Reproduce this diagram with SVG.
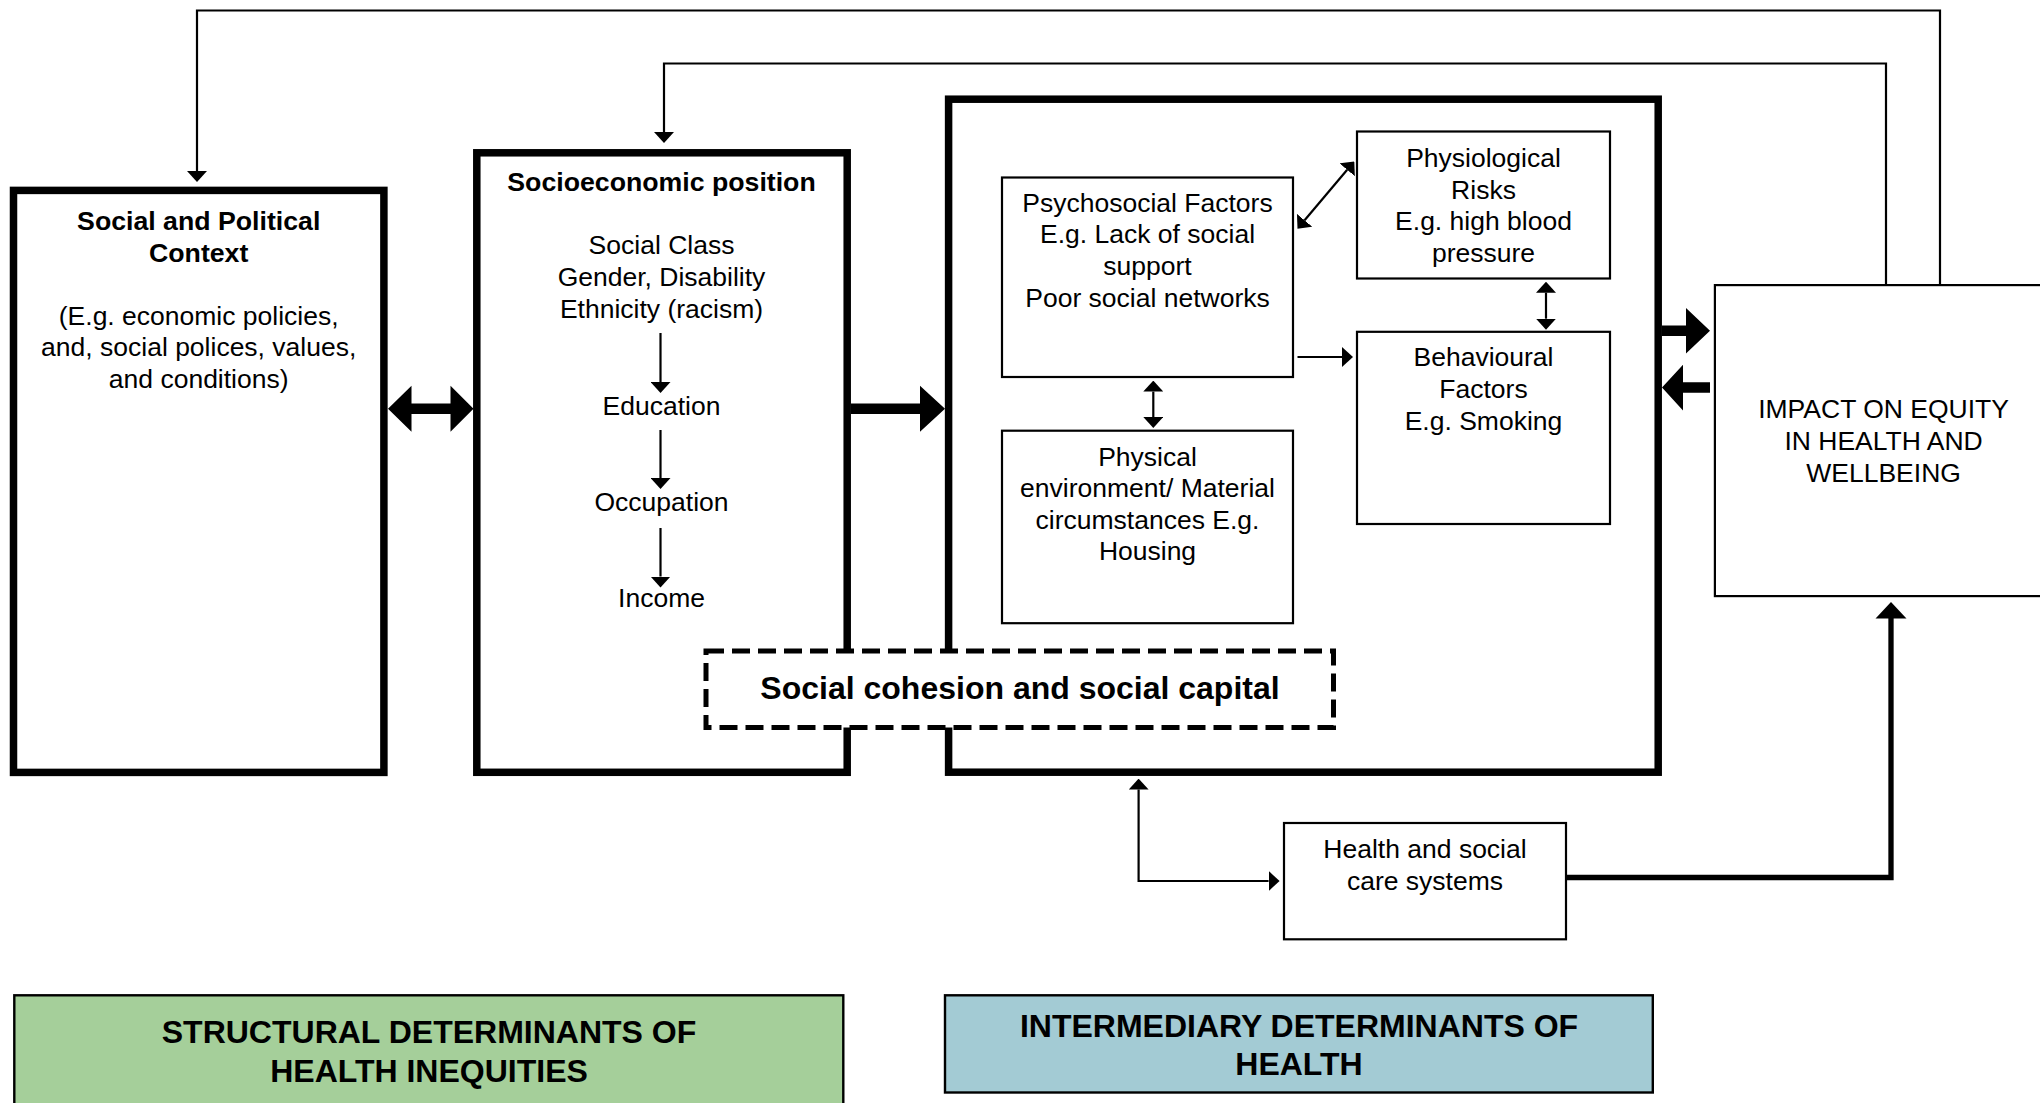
<svg xmlns="http://www.w3.org/2000/svg" width="2040" height="1103" viewBox="0 0 2040 1103">
<defs>
<style>
.thick{fill:#fff;stroke:#000;stroke-width:7.5}
.thin{fill:#fff;stroke:#000;stroke-width:2.2}
.dash{fill:#fff;stroke:#000;stroke-width:5;stroke-dasharray:18 8}
.green{fill:#a5cf9a;stroke:#000;stroke-width:2.4}
.blue{fill:#a3cbd4;stroke:#000;stroke-width:2.4}
.t{font-family:"Liberation Sans",Arial,sans-serif;font-size:26.5px;fill:#000;text-anchor:middle}
.b{font-family:"Liberation Sans",Arial,sans-serif;font-size:26.7px;font-weight:bold;fill:#000;text-anchor:middle}
.bb{font-family:"Liberation Sans",Arial,sans-serif;font-size:32px;font-weight:bold;fill:#000;text-anchor:middle}
.ln{fill:none;stroke:#000;stroke-width:2.2}
.fat{fill:#000;stroke:none}
</style>
<marker id="ah" viewBox="0 0 11 20" markerWidth="11" markerHeight="20" refX="0" refY="10" orient="auto-start-reverse" markerUnits="userSpaceOnUse">
<path d="M0,0 L11,10 L0,20 Z" fill="#000"/>
</marker>
</defs>

<g id="node-social-political">
<rect class="thick" x="13.5" y="190.4" width="370.4" height="582"/>
<text class="b" x="198.7" y="230">Social and Political</text>
<text class="b" x="198.7" y="261.6">Context</text>
<text class="t" x="198.7" y="324.5">(E.g. economic policies,</text>
<text class="t" x="198.7" y="356">and, social polices, values,</text>
<text class="t" x="198.7" y="387.6">and conditions)</text>
</g>

<g id="node-socioeconomic">
<rect class="thick" x="476.8" y="152.8" width="370.4" height="619.5"/>
<text class="b" x="661.5" y="191">Socioeconomic position</text>
<text class="t" x="661.5" y="254">Social Class</text>
<text class="t" x="661.5" y="286">Gender, Disability</text>
<text class="t" x="661.5" y="317.5">Ethnicity (racism)</text>
<text class="t" x="661.5" y="415">Education</text>
<text class="t" x="661.5" y="510.5">Occupation</text>
<text class="t" x="661.5" y="606.7">Income</text>
</g>

<g id="node-intermediary">
<rect class="thick" x="948.6" y="99.2" width="709.6" height="673"/>
</g>

<g id="node-psychosocial">
<rect class="thin" x="1002" y="177.5" width="291" height="199.5"/>
<text class="t" x="1147.5" y="211.5">Psychosocial Factors</text>
<text class="t" x="1147.5" y="243.1">E.g. Lack of social</text>
<text class="t" x="1147.5" y="274.7">support</text>
<text class="t" x="1147.5" y="306.9">Poor social networks</text>
</g>

<g id="node-physiological">
<rect class="thin" x="1357" y="131.5" width="253" height="147"/>
<text class="t" x="1483.5" y="167.3">Physiological</text>
<text class="t" x="1483.5" y="198.8">Risks</text>
<text class="t" x="1483.5" y="230.3">E.g. high blood</text>
<text class="t" x="1483.5" y="261.8">pressure</text>
</g>

<g id="node-behavioural">
<rect class="thin" x="1357" y="331.8" width="253" height="192.2"/>
<text class="t" x="1483.5" y="366">Behavioural</text>
<text class="t" x="1483.5" y="398">Factors</text>
<text class="t" x="1483.5" y="429.7">E.g. Smoking</text>
</g>

<g id="node-physical">
<rect class="thin" x="1002" y="430.7" width="291" height="192.5"/>
<text class="t" x="1147.5" y="465.5">Physical</text>
<text class="t" x="1147.5" y="497">environment/ Material</text>
<text class="t" x="1147.5" y="528.6">circumstances E.g.</text>
<text class="t" x="1147.5" y="560">Housing</text>
</g>

<g id="node-cohesion">
<rect class="dash" x="706" y="651" width="627.5" height="76.5"/>
<text class="bb" x="1020" y="698.6">Social cohesion and social capital</text>
</g>

<g id="node-impact">
<rect class="thin" x="1714.9" y="285.1" width="360" height="311"/>
<text class="t" x="1883.6" y="417.5">IMPACT ON EQUITY</text>
<text class="t" x="1883.6" y="449.5">IN HEALTH AND</text>
<text class="t" x="1883.6" y="481.5">WELLBEING</text>
</g>

<g id="node-health-care">
<rect class="thin" x="1284" y="823" width="282" height="116.3"/>
<text class="t" x="1425" y="858.2">Health and social</text>
<text class="t" x="1425" y="889.8">care systems</text>
</g>

<g id="node-structural-label">
<rect class="green" x="14.3" y="995.3" width="829" height="130"/>
<text class="bb" x="429" y="1043">STRUCTURAL DETERMINANTS OF</text>
<text class="bb" x="429" y="1082">HEALTH INEQUITIES</text>
</g>

<g id="node-intermediary-label">
<rect class="blue" x="945" y="995.3" width="707.8" height="97.2"/>
<text class="bb" x="1299" y="1037">INTERMEDIARY DETERMINANTS OF</text>
<text class="bb" x="1299" y="1075">HEALTH</text>
</g>

<g id="connectors">
<path class="ln" d="M1940,285 V10.5 H197 V171" marker-end="url(#ah)"/>
<path class="ln" d="M1886,285 V63.5 H664 V132" marker-end="url(#ah)"/>
<path class="ln" d="M660.5,333 V382" marker-end="url(#ah)"/>
<path class="ln" d="M660.5,430 V478" marker-end="url(#ah)"/>
<path class="ln" d="M660.5,528 V576.5" marker-end="url(#ah)"/>
<path class="ln" d="M1304.6,220.3 L1347.2,169.8" marker-start="url(#ah)" marker-end="url(#ah)"/>
<path class="ln" d="M1297.5,357 H1342" marker-end="url(#ah)"/>
<path class="ln" d="M1153.3,391.6 V417" marker-start="url(#ah)" marker-end="url(#ah)"/>
<path class="ln" d="M1546,292.7 V318.7" marker-start="url(#ah)" marker-end="url(#ah)"/>
<path class="ln" d="M1138.6,789.6 V881 H1268.6" marker-start="url(#ah)" marker-end="url(#ah)"/>
<path fill="none" stroke="#000" stroke-width="5.3" d="M1567,877.5 H1891 V617"/>
<polygon class="fat" points="1875.5,618.5 1891,602 1906.5,618.5"/>
<polygon class="fat" points="388,408.7 411.5,385.7 411.5,403.5 450.5,403.5 450.5,385.7 473.5,408.7 450.5,431.7 450.5,414 411.5,414 411.5,431.7"/>
<polygon class="fat" points="851,403.5 920,403.5 920,385.7 945,408.7 920,431.7 920,414 851,414"/>
<polygon class="fat" points="1662,325.5 1686,325.5 1686,308 1710,330.8 1686,353.6 1686,336 1662,336"/>
<polygon class="fat" points="1710,382.3 1683,382.3 1683,364.8 1662,387.6 1683,410.4 1683,392.8 1710,392.8"/>
</g>
</svg>
